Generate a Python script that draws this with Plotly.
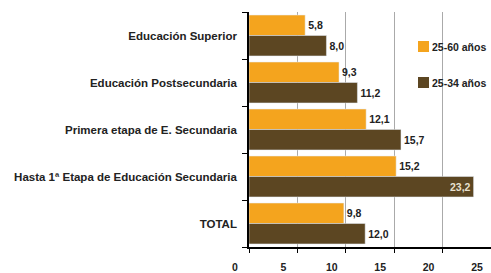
import plotly.graph_objects as go

categories = ["Educación Superior", "Educación Postsecundaria", "Primera etapa de E. Secundaria",
              "Hasta 1ª Etapa de Educación Secundaria", "TOTAL"]
serie_25_60 = [5.8, 9.3, 12.1, 15.2, 9.8]
serie_25_34 = [8.0, 11.2, 15.7, 23.2, 12.0]
names = ["25-60 años", "25-34 años"]
x_ticks = [0, 5, 10, 15, 20, 25]

ORANGE = "#F4A41E"
BROWN = "#5C4622"
FONT = "Liberation Sans"

W, H = 491, 273
ML, MT, MB = 249, 12, 26

def fmt(v):
    return f"<b>{v:.1f}</b>".replace(".", ",")

pw = W - ML
ph = H - MT - MB

fig = go.Figure()
fig.add_trace(go.Bar(
    y=categories, x=serie_25_60, orientation="h", name=names[0],
    marker=dict(color=ORANGE), text=[fmt(v) for v in serie_25_60],
    textposition="outside", textfont=dict(color="#222", size=10.5, family=FONT),
    showlegend=False, cliponaxis=False))
pos2 = ["inside" if v > 22 else "outside" for v in serie_25_34]
fig.add_trace(go.Bar(
    y=categories, x=serie_25_34, orientation="h", name=names[1],
    marker=dict(color=BROWN), text=[fmt(v) for v in serie_25_34],
    textposition=pos2, insidetextanchor="end",
    insidetextfont=dict(color="#E8E0D0", size=10.5, family=FONT),
    outsidetextfont=dict(color="#222", size=10.5, family=FONT),
    showlegend=False, cliponaxis=False))

# legend drawn as squares + labels
legend_items = [(names[0], ORANGE, 46.5), (names[1], BROWN, 82.5)]
for name, col, yc in legend_items:
    fig.add_shape(type="rect", xref="paper", yref="paper",
                  x0=(418 - ML) / pw, x1=(429 - ML) / pw,
                  y0=1 - (yc + 5.5 - MT) / ph, y1=1 - (yc - 5.5 - MT) / ph,
                  fillcolor=col, line=dict(width=0))
    fig.add_annotation(text=f"<b>{name}</b>", xref="paper", yref="paper",
                       x=(430 - ML) / pw, y=1 - (yc - MT) / ph,
                       xanchor="left", yanchor="middle", showarrow=False,
                       font=dict(size=10.5, family=FONT, color="#222"))

fig.update_layout(
    width=W, height=H,
    margin=dict(l=ML, r=0, t=MT, b=MB),
    barmode="group", bargap=0.13, bargroupgap=0,
    plot_bgcolor="white", paper_bgcolor="white",
    font=dict(family=FONT, size=10, color="#111"),
    showlegend=False,
    xaxis=dict(range=[0, 25], tickvals=x_ticks,
               ticktext=[f"<b>{t}</b>" for t in x_ticks], showgrid=True,
               gridcolor="#AAAAAA", gridwidth=1, showline=True, linecolor="black",
               linewidth=1.5, ticks="outside", ticklen=4, tickcolor="black",
               zeroline=False, ticklabelshift=-14, ticklabelstandoff=6,
               tickfont=dict(size=10.5, family=FONT, color="#222"), automargin=False),
    yaxis=dict(categoryorder="array", categoryarray=categories, autorange="reversed",
               showline=True, linecolor="black", linewidth=1.5, ticks="outside",
               ticklen=5, tickcolor="black", tickson="boundaries",
               ticktext=[f"<b>{c}</b>" for c in categories], tickvals=categories,
               ticklabelstandoff=8, tickfont=dict(size=11.5, family=FONT, color="#222"),
               automargin=False),
)

fig.write_html("out.html", config={"displayModeBar": False},
               post_script="document.body.style.margin='0';document.body.style.padding='0';")
